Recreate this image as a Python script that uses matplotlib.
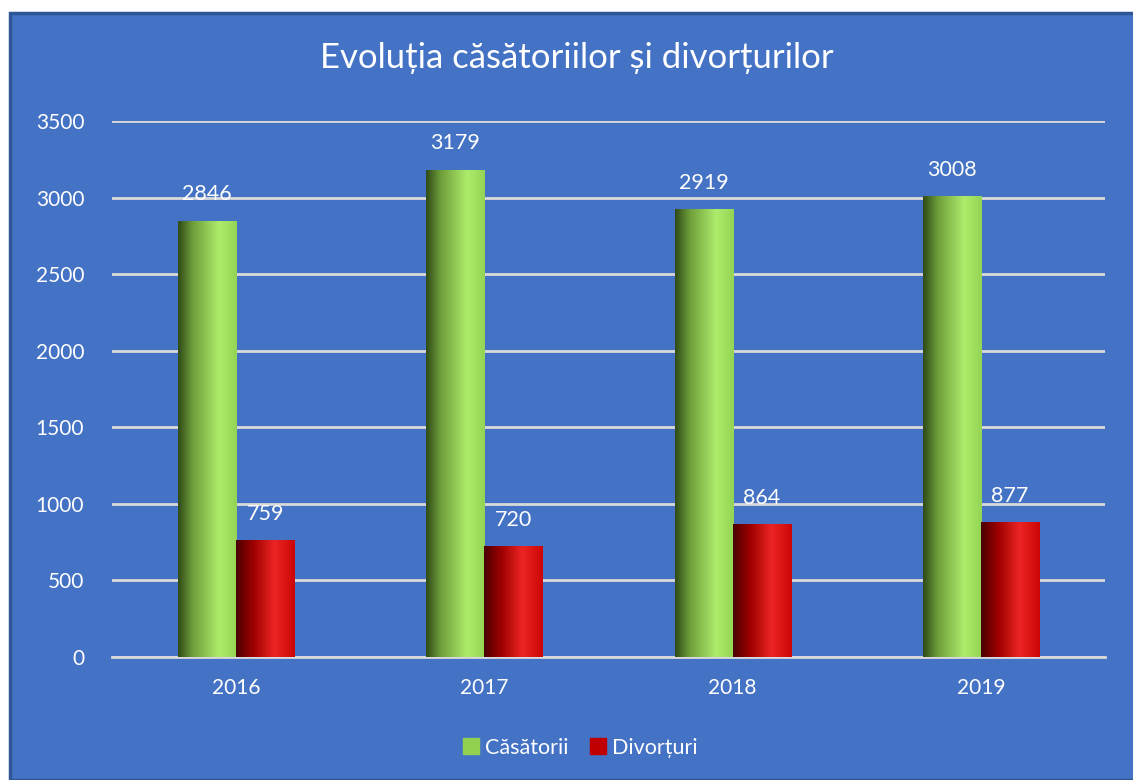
import matplotlib.pyplot as plt
import numpy as np
from matplotlib.colors import LinearSegmentedColormap
from matplotlib.patches import Rectangle
from matplotlib.lines import Line2D

plt.rcParams["font.family"] = ["Lato", "DejaVu Sans"]

years = ["2016", "2017", "2018", "2019"]
casatorii = [2846, 3179, 2919, 3008]
divorturi = [759, 720, 864, 877]
yticks = [0, 500, 1000, 1500, 2000, 2500, 3000, 3500]

bg = "#4472C4"
green_cmap = LinearSegmentedColormap.from_list(
    "g", [(0, "#2F4A18"), (0.25, "#6E9E3A"), (0.7, "#AEEC6C"), (1, "#94D454")])
red_cmap = LinearSegmentedColormap.from_list(
    "r", [(0, "#4A0000"), (0.3, "#A00000"), (0.65, "#EC2424"), (1, "#CC0606")])

fig = plt.figure(figsize=(11.33, 7.8), dpi=100)
fig.patch.set_facecolor("white")
fig.patches.append(Rectangle((10 / 1133, 0), 1, 1 - 13 / 780,
                             transform=fig.transFigure, facecolor=bg,
                             edgecolor="#2F5597", linewidth=2.5, zorder=-5))

ax = fig.add_axes([112 / 1133, 123 / 780, 993 / 1133, 536 / 780])
ax.set_facecolor("none")

w = 0.234
grad = np.linspace(0, 1, 256).reshape(1, -1)


def gradient_bar(x0, h, cmap):
    ax.imshow(grad, cmap=cmap, extent=[x0, x0 + w, 0, h], aspect="auto",
              zorder=3, interpolation="bicubic")


x = np.arange(len(years))
for i in x:
    gradient_bar(i - w, casatorii[i], green_cmap)
    gradient_bar(i, divorturi[i], red_cmap)
    ax.annotate(str(casatorii[i]), (i - w / 2, casatorii[i]), xytext=(0, 12),
                textcoords="offset points", ha="center", va="bottom",
                color="white", fontsize=15.5)
    ax.annotate(str(divorturi[i]), (i + w / 2, divorturi[i]), xytext=(0, 12),
                textcoords="offset points", ha="center", va="bottom",
                color="white", fontsize=15.5)

ax.set_xlim(-0.5, 3.5)
ax.set_ylim(0, 3500)
ax.set_xticks(x)
ax.set_xticklabels(years)
ax.set_yticks(yticks)
ax.tick_params(axis="both", length=0, colors="white", labelsize=15)
ax.tick_params(axis="x", pad=15)
ax.tick_params(axis="y", pad=20)
ax.grid(axis="y", color="#D9D9D9", linewidth=2, zorder=1)
ax.set_axisbelow(True)
for s in ["top", "right", "left"]:
    ax.spines[s].set_visible(False)
ax.spines["bottom"].set_color("#D9D9D9")
ax.spines["bottom"].set_linewidth(2)

fig.text(0.509, 0.926, "Evoluția căsătoriilor și divorțurilor",
         ha="center", va="center", color="white", fontsize=25)

handles = [Line2D([], [], marker="s", linestyle="none", markersize=11,
                  markerfacecolor="#92D050", markeredgecolor="#92D050"),
           Line2D([], [], marker="s", linestyle="none", markersize=11,
                  markerfacecolor="#C00000", markeredgecolor="#C00000")]
leg = fig.legend(handles, ["Căsătorii", "Divorțuri"], loc="center",
                 bbox_to_anchor=(0.511, 0.041), ncol=2, frameon=False,
                 fontsize=15.5, handletextpad=0.15, columnspacing=0.9,
                 handlelength=1)
for t in leg.get_texts():
    t.set_color("white")

fig.savefig("out.png", dpi=100)
